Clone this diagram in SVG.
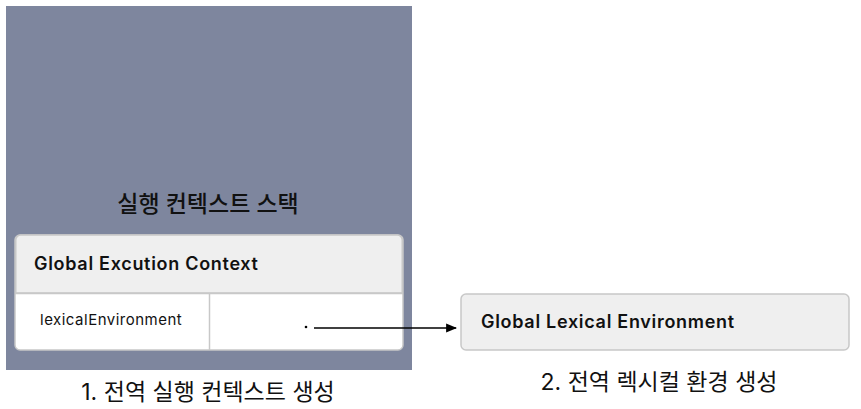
<svg xmlns="http://www.w3.org/2000/svg" width="861" height="409" viewBox="0 0 861 409">
<style>
text{font-family:Inter,"Noto Sans CJK KR",sans-serif;fill:#111}
.title{font-size:23px;font-weight:500}
.cap{font-size:23px}
.hdr{font-size:18px;font-weight:600;letter-spacing:0.7px}
.cell{font-size:15px;letter-spacing:0.5px}
.box{stroke:#c8c8c8;stroke-width:1.5}
</style>
<defs>
<marker id="arr" viewBox="0 0 10 10" refX="9" refY="5" markerWidth="11" markerHeight="11" markerUnits="userSpaceOnUse" orient="auto"><path d="M0,1 L10,5 L0,9 z" fill="#000"/></marker>
</defs>
<g id="stack">
<rect x="6" y="6" width="406" height="364" fill="#7e869e"/>
<text class="title" x="208" y="212" text-anchor="middle">실행 컨텍스트 스택</text>
</g>
<g id="gec">
<rect class="box" x="15" y="235" width="388" height="115" rx="5" fill="#fff"/>
<path class="box" d="M15.75,293 V240 a5,5 0 0 1 5,-5 H397.25 a5,5 0 0 1 5,5 V293 z" fill="#efefef"/>
<line class="box" x1="15" y1="293.5" x2="403" y2="293.5"/>
<line class="box" x1="209.5" y1="293.5" x2="209.5" y2="350"/>
<text class="hdr" x="34" y="270">Global Excution Context</text>
<text class="cell" x="40" y="325">lexicalEnvironment</text>
<circle cx="306" cy="327" r="1.3" fill="#000"/>
</g>
<g id="gle">
<rect class="box" x="461" y="294" width="388" height="56" rx="5" fill="#efefef"/>
<text class="hdr" x="481" y="328">Global Lexical Environment</text>
</g>
<g id="connectors">
<line x1="314" y1="328" x2="456" y2="328" stroke="#000" stroke-width="1.5" marker-end="url(#arr)"/>
</g>
<g id="captions">
<text class="cap" x="208" y="400" text-anchor="middle">1. 전역 실행 컨텍스트 생성</text>
<text class="cap" x="659" y="390" text-anchor="middle">2. 전역 렉시컬 환경 생성</text>
</g>
</svg>
